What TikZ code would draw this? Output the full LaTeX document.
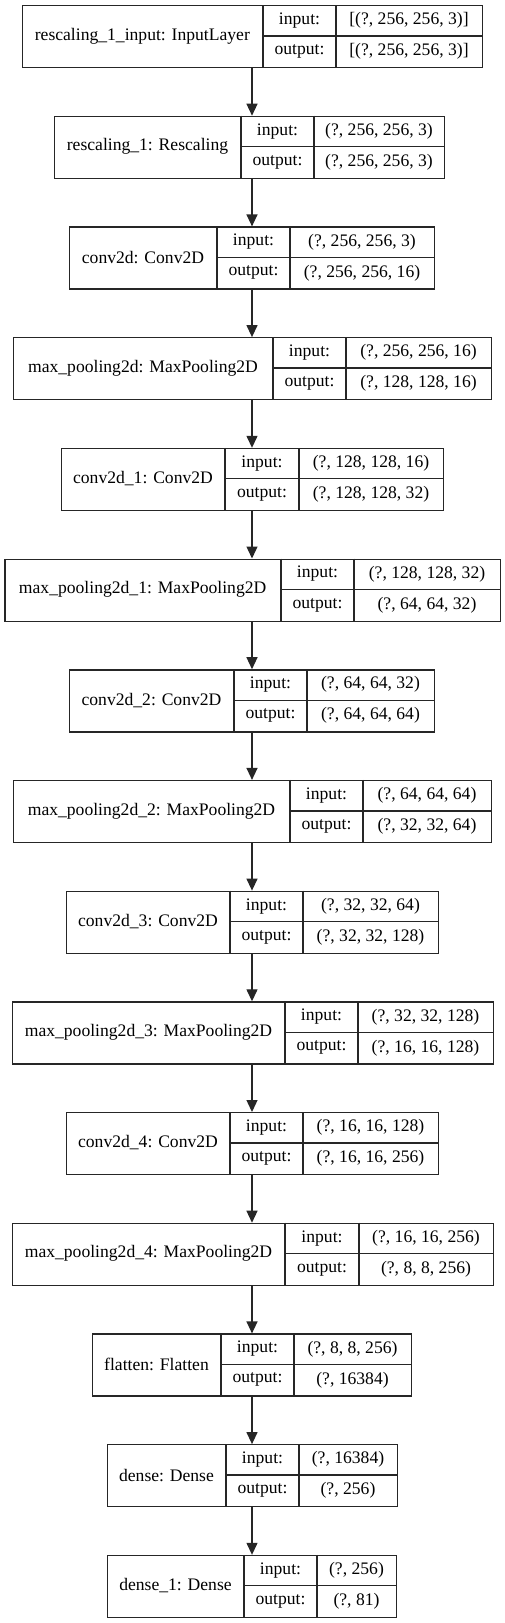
\documentclass[tikz,border=0pt]{standalone}
\usepackage{fontspec}
\setmainfont{Liberation Serif}
\usetikzlibrary{arrows.meta}
\tikzset{
  boxline/.style={draw=black!85, line width=1.3pt},
  layerbox/.style={boxline, rectangle, inner sep=0pt, anchor=north west, minimum height=62pt},
  txt/.style={inner sep=0pt, font=\fontsize{17.6}{20}\selectfont},
  conn/.style={draw=black!85, line width=1.3pt, -{Triangle[length=12pt,width=11pt]}}
}
% #1 name, #2 top, #3 left, #4 d1, #5 d2, #6 right, #7 label, #8 input shape, #9 output shape
\newcommand\klayer[9]{%
  \node[layerbox, minimum width={(#6-#3)*1pt}] (#1) at (#3,#2) {};
  \draw[boxline] (#4,#2) -- (#4,{#2+62});
  \draw[boxline] (#5,#2) -- (#5,{#2+62});
  \draw[boxline] (#4,{#2+31}) -- (#6,{#2+31});
  \node[txt] (#1-lab) at ({(#3+#4)/2},{#2+31}) {#7};
  \node[txt] (#1-inl) at ({(#4+#5)/2},{#2+15.5}) {input:};
  \node[txt] (#1-outl) at ({(#4+#5)/2},{#2+46.5}) {output:};
  \node[txt] (#1-ins) at ({(#5+#6)/2},{#2+15.5}) {#8};
  \node[txt] (#1-outs) at ({(#5+#6)/2},{#2+46.5}) {#9};
}
\begin{document}
\begin{tikzpicture}[x=1pt,y=-1pt]
\useasboundingbox (0,0) rectangle (504,1623);
\klayer{l0}{5}{21.7}{263}{336}{482}{rescaling\_1\_input: InputLayer}{[(?, 256, 256, 3)]}{[(?, 256, 256, 3)]}
\klayer{l1}{115.7}{54}{241}{314}{444}{rescaling\_1: Rescaling}{(?, 256, 256, 3)}{(?, 256, 256, 3)}
\klayer{l2}{226.4}{69}{217}{290}{434}{conv2d: Conv2D}{(?, 256, 256, 3)}{(?, 256, 256, 16)}
\klayer{l3}{337.1}{13}{273}{346}{491}{max\_pooling2d: MaxPooling2D}{(?, 256, 256, 16)}{(?, 128, 128, 16)}
\klayer{l4}{447.8}{61}{225}{299}{443}{conv2d\_1: Conv2D}{(?, 128, 128, 16)}{(?, 128, 128, 32)}
\klayer{l5}{558.5}{4.3}{281}{354}{500}{max\_pooling2d\_1: MaxPooling2D}{(?, 128, 128, 32)}{(?, 64, 64, 32)}
\klayer{l6}{669.2}{69}{234}{307}{434}{conv2d\_2: Conv2D}{(?, 64, 64, 32)}{(?, 64, 64, 64)}
\klayer{l7}{779.9}{13}{290}{363}{491}{max\_pooling2d\_2: MaxPooling2D}{(?, 64, 64, 64)}{(?, 32, 32, 64)}
\klayer{l8}{890.6}{66}{230}{303}{438}{conv2d\_3: Conv2D}{(?, 32, 32, 64)}{(?, 32, 32, 128)}
\klayer{l9}{1001.3}{12}{285}{358}{493}{max\_pooling2d\_3: MaxPooling2D}{(?, 32, 32, 128)}{(?, 16, 16, 128)}
\klayer{l10}{1112}{66}{230}{303}{438}{conv2d\_4: Conv2D}{(?, 16, 16, 128)}{(?, 16, 16, 256)}
\klayer{l11}{1222.7}{12}{285}{359}{493}{max\_pooling2d\_4: MaxPooling2D}{(?, 16, 16, 256)}{(?, 8, 8, 256)}
\klayer{l12}{1333.4}{92}{221}{294}{411}{flatten: Flatten}{(?, 8, 8, 256)}{(?, 16384)}
\klayer{l13}{1444.1}{107}{226}{299}{397}{dense: Dense}{(?, 16384)}{(?, 256)}
\klayer{l14}{1554.8}{107}{244}{317}{396}{dense\_1: Dense}{(?, 256)}{(?, 81)}
\foreach \a/\b in {l0/l1,l1/l2,l2/l3,l3/l4,l4/l5,l5/l6,l6/l7,l7/l8,l8/l9,l9/l10,l10/l11,l11/l12,l12/l13,l13/l14}{
  \draw[conn] (\a.south -| 252,0) -- (\b.north -| 252,0);
}
\end{tikzpicture}
\end{document}
